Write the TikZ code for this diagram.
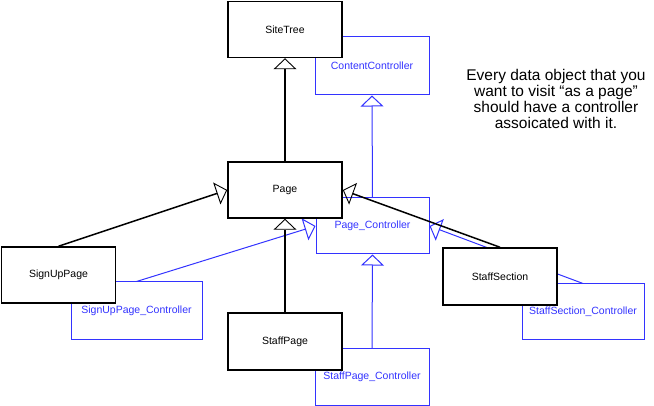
\documentclass[tikz,border=0pt]{standalone}
\usepackage{fontspec}
\setmainfont{Liberation Sans}
\usetikzlibrary{arrows.meta}
\definecolor{ctrlblue}{RGB}{51,51,255}

\begin{document}
\begin{tikzpicture}[x=1pt,y=-1pt,
	model/.style={draw=black,line width=1.5pt,fill=white,minimum width=114pt,minimum height=56pt,inner sep=0pt,font=\fontsize{10.5}{12}\selectfont},
	ctrl/.style={draw=ctrlblue,line width=1pt,fill=white,text=ctrlblue,minimum width=114pt,minimum height=57pt,inner sep=0pt,font=\fontsize{10.5}{12}\selectfont},
	isa/.style={line width=1.5pt,-{Triangle[open,length=11pt,width=23pt,line width=0.9pt]}},
	ctrlisa/.style={ctrlblue,line width=1pt,-{Triangle[open,length=11pt,width=23pt]}}]
	\useasboundingbox (0,0) rectangle (654,406);

	% draw the controllers
	\node[ctrl,minimum height=58pt] (contentctrl) at (372,66) {ContentController};
	\node[ctrl,minimum width=113pt,minimum height=56pt] (pagectrl) at (372.5,226) {Page\_Controller};
	\node[ctrl,minimum width=131pt,minimum height=58pt] (signupctrl) at (136.5,311) {SignUpPage\_Controller};
	\node[ctrl,minimum width=122pt,minimum height=56pt] (staffsecctrl) at (583,312) {StaffSection\_Controller};
	\node[ctrl,minimum height=56pt] (staffpagectrl) at (372,377) {StaffPage\_Controller};

	% controller inheritance
	\draw[ctrlisa] (pagectrl.north) -- (contentctrl.south);
	\draw[ctrlisa] (staffpagectrl.north) -- (pagectrl.south);
	\draw[ctrlisa] (signupctrl.north) -- (pagectrl.west);
	\draw[ctrlisa] (staffsecctrl.north) -- (pagectrl.east);

	% draw the data objects
	\node[model] (sitetree) at (285,29.5) {SiteTree};
	\node[model] (page) at (285,190) {Page};
	\node[model] (signup) at (58.5,275) {SignUpPage};
	\node[model,minimum height=57pt] (staffsec) at (500,276.5) {StaffSection};
	\node[model,minimum height=57pt] (staffpage) at (285,341.5) {StaffPage};

	% data object inheritance
	\foreach \from/\to in {page.north/sitetree.south,staffpage.north/page.south,
		signup.north/page.west,staffsec.north/page.east} {
		\draw[isa] (\from) -- (\to);
	}

	% the note
	\node[align=center,font=\fontsize{15.5}{16}\selectfont] (note) at (556,99)
		{Every data object that you\\want to visit “as a page”\\should have a controller\\assoicated with it.};
\end{tikzpicture}
\end{document}
